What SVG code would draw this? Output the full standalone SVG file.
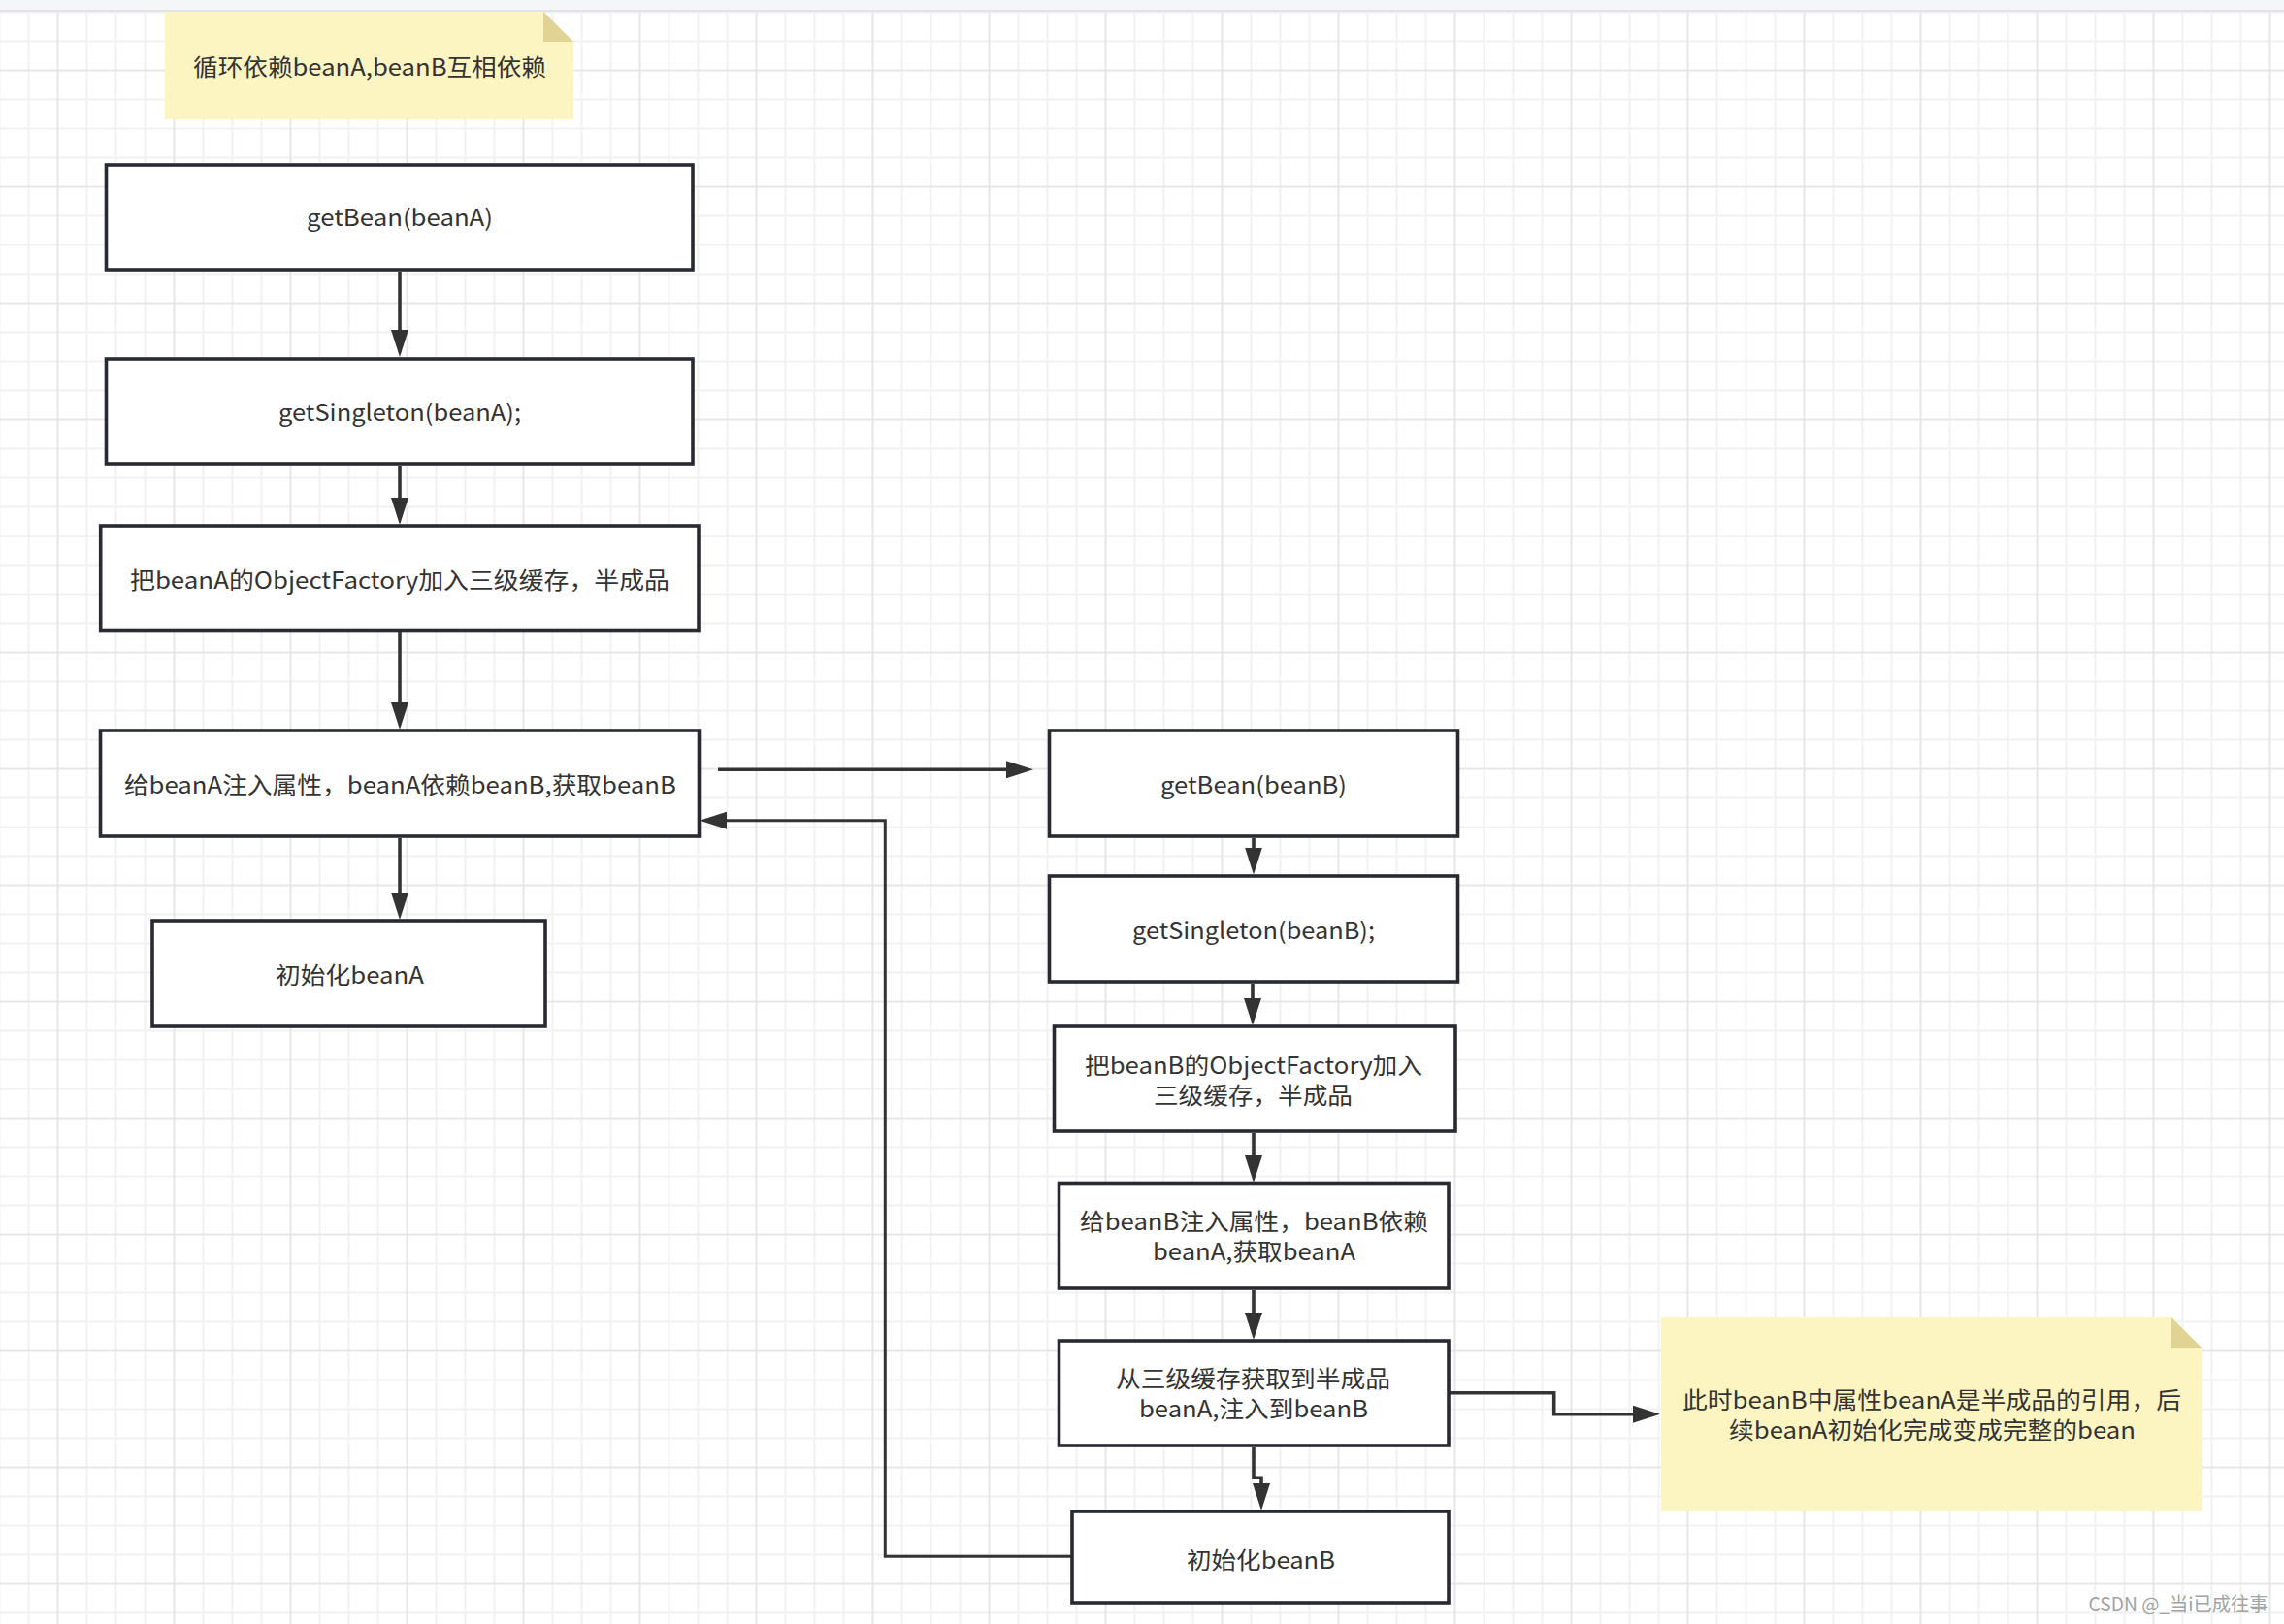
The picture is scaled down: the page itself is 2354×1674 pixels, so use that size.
<svg xmlns="http://www.w3.org/2000/svg" width="2354" height="1674" viewBox="0 0 2354 1674">
<style>
.box{fill:#ffffff;stroke:#272a30;stroke-width:3.6}
.note{fill:#fdf5c1}
.fold{fill:#e0d394}
.t{font-family:"Noto Sans CJK SC","Noto Sans",sans-serif;font-size:24px;fill:#333333}
.c{fill:none;stroke:#333333;stroke-width:3.6}
.c2{fill:none;stroke:#333333;stroke-width:3}
.wm{font-family:"Noto Sans CJK SC","Noto Sans",sans-serif;font-size:20px;fill:#a3a3a3}
</style>
<defs>
<pattern id="grid" patternUnits="userSpaceOnUse" x="-15.5" y="-2.5" width="120" height="120">
<rect x="14" y="0" width="2" height="120" fill="#f1f1f2"/>
<rect x="44" y="0" width="2" height="120" fill="#f1f1f2"/>
<rect x="104" y="0" width="2" height="120" fill="#f1f1f2"/>
<rect x="0" y="14" width="120" height="2" fill="#f1f1f2"/>
<rect x="0" y="44" width="120" height="2" fill="#f1f1f2"/>
<rect x="0" y="104" width="120" height="2" fill="#f1f1f2"/>
<rect x="74" y="0" width="2" height="120" fill="#e6e6e8"/>
<rect x="0" y="74" width="120" height="2" fill="#e6e6e8"/>
</pattern>
<marker id="arr" markerUnits="userSpaceOnUse" viewBox="0 0 28 18" markerWidth="28" markerHeight="18" refX="1" refY="9" orient="auto">
<path d="M0,0 L28,9 L0,18 z" fill="#333333"/>
</marker>
</defs>
<rect x="0" y="0" width="2354" height="1674" fill="#ffffff"/>
<rect x="0" y="12" width="2354" height="1662" fill="url(#grid)"/>
<rect x="0" y="0" width="2354" height="10" fill="#f5f6f8"/>
<rect x="0" y="10" width="2354" height="2" fill="#e2e3e7"/>

<g id="connectors">
<path class="c" d="M412,280 V341" marker-end="url(#arr)"/>
<path class="c" d="M412,480 V514" marker-end="url(#arr)"/>
<path class="c" d="M412,651 V725" marker-end="url(#arr)"/>
<path class="c" d="M412,864 V921" marker-end="url(#arr)"/>
<path class="c" d="M740,793.3 H1038" marker-end="url(#arr)"/>
<path class="c2" d="M1106,1604.3 H912.3 V845.7 H748" marker-end="url(#arr)"/>
<path class="c" d="M1292,864 V874.5" marker-end="url(#arr)"/>
<path class="c" d="M1291,1014 V1030" marker-end="url(#arr)"/>
<path class="c" d="M1292,1168 V1192" marker-end="url(#arr)"/>
<path class="c" d="M1292,1330 V1354" marker-end="url(#arr)"/>
<path class="c" d="M1292,1492 V1523.3 H1300 V1530" marker-end="url(#arr)"/>
<path class="c" d="M1493,1435.7 H1601.7 V1457.7 H1684" marker-end="url(#arr)"/>
</g>

<g id="note1">
<path class="note" d="M170,12 H560 L591,43 V123 H170 Z"/>
<path class="fold" d="M560,12 V43 H591 Z"/>
<text class="t" x="381" y="78" text-anchor="middle" textLength="364" lengthAdjust="spacingAndGlyphs">循环依赖beanA,beanB互相依赖</text>
</g>

<g id="getBeanA">
<rect class="box" x="109.5" y="170" width="604.5" height="108"/>
<text class="t" x="412" y="233" text-anchor="middle" textLength="192" lengthAdjust="spacingAndGlyphs">getBean(beanA)</text>
</g>
<g id="getSingletonA">
<rect class="box" x="109.5" y="370" width="604.5" height="108"/>
<text class="t" x="412" y="434" text-anchor="middle" textLength="250" lengthAdjust="spacingAndGlyphs">getSingleton(beanA);</text>
</g>
<g id="factoryA">
<rect class="box" x="103.7" y="542" width="616.3" height="107.5"/>
<text class="t" x="412" y="607" text-anchor="middle" textLength="556" lengthAdjust="spacingAndGlyphs">把beanA的ObjectFactory加入三级缓存，半成品</text>
</g>
<g id="injectA">
<rect class="box" x="103.5" y="753" width="617" height="109"/>
<text class="t" x="412.4" y="818" text-anchor="middle" textLength="569" lengthAdjust="spacingAndGlyphs">给beanA注入属性，beanA依赖beanB,获取beanB</text>
</g>
<g id="initA">
<rect class="box" x="157" y="949" width="405" height="109"/>
<text class="t" x="360.5" y="1014" text-anchor="middle" textLength="153" lengthAdjust="spacingAndGlyphs">初始化beanA</text>
</g>

<g id="getBeanB">
<rect class="box" x="1081.5" y="753" width="421" height="109"/>
<text class="t" x="1292" y="818" text-anchor="middle" textLength="192" lengthAdjust="spacingAndGlyphs">getBean(beanB)</text>
</g>
<g id="getSingletonB">
<rect class="box" x="1081.5" y="903" width="421" height="109"/>
<text class="t" x="1292" y="968" text-anchor="middle" textLength="250" lengthAdjust="spacingAndGlyphs">getSingleton(beanB);</text>
</g>
<g id="factoryB">
<rect class="box" x="1086.5" y="1058" width="413.5" height="108"/>
<text class="t" x="1292" y="1107" text-anchor="middle" textLength="348" lengthAdjust="spacingAndGlyphs">把beanB的ObjectFactory加入</text>
<text class="t" x="1291.5" y="1138" text-anchor="middle" textLength="205" lengthAdjust="spacingAndGlyphs">三级缓存，半成品</text>
</g>
<g id="injectB">
<rect class="box" x="1091.5" y="1219.5" width="401.5" height="108.5"/>
<text class="t" x="1292.5" y="1268" text-anchor="middle" textLength="359" lengthAdjust="spacingAndGlyphs">给beanB注入属性，beanB依赖</text>
<text class="t" x="1292.5" y="1299" text-anchor="middle" textLength="209" lengthAdjust="spacingAndGlyphs">beanA,获取beanA</text>
</g>
<g id="fromCache">
<rect class="box" x="1091.5" y="1382" width="401.5" height="108"/>
<text class="t" x="1291.5" y="1430" text-anchor="middle" textLength="283" lengthAdjust="spacingAndGlyphs">从三级缓存获取到半成品</text>
<text class="t" x="1292" y="1461" text-anchor="middle" textLength="236" lengthAdjust="spacingAndGlyphs">beanA,注入到beanB</text>
</g>
<g id="initB">
<rect class="box" x="1105" y="1558" width="388" height="94"/>
<text class="t" x="1299.5" y="1617" text-anchor="middle" textLength="153" lengthAdjust="spacingAndGlyphs">初始化beanB</text>
</g>

<g id="note2">
<path class="note" d="M1712,1358 H2238 L2270,1390 V1558 H1712 Z"/>
<path class="fold" d="M2238,1358 V1390 H2270 Z"/>
<text class="t" x="1991" y="1452" text-anchor="middle" textLength="514" lengthAdjust="spacingAndGlyphs">此时beanB中属性beanA是半成品的引用，后</text>
<text class="t" x="1991.5" y="1483" text-anchor="middle" textLength="419" lengthAdjust="spacingAndGlyphs">续beanA初始化完成变成完整的bean</text>
</g>

<text class="wm" x="2245" y="1661" text-anchor="middle" textLength="185" lengthAdjust="spacingAndGlyphs">CSDN @_当i已成往事</text>
</svg>
